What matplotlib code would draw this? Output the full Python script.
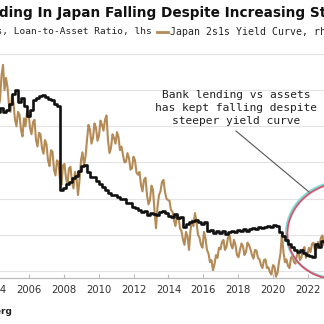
import numpy as np
import matplotlib.pyplot as plt
from matplotlib.patches import Ellipse
from matplotlib.lines import Line2D

# Japan banks, loan-to-asset ratio (%), lhs -- roughly every 9 weeks from Jan 2004
loan_to_asset = [72.3, 72.0, 72.5, 72.0, 72.3, 73.1, 74.5, 75.0, 73.4, 73.9,
                 72.8, 71.4, 72.3, 73.6, 73.9, 74.2, 74.3, 74.1, 73.8, 73.6,
                 73.1, 72.8, 61.2, 61.5, 62.0, 62.3, 62.8, 63.1, 63.8, 64.5,
                 64.6, 63.7, 63.0, 63.0, 62.4, 62.0, 61.6, 61.2, 60.8, 60.5,
                 60.5, 60.2, 59.9, 59.9, 59.4, 59.4, 58.8, 58.7, 58.4, 58.1,
                 58.3, 57.7, 58.0, 57.9, 57.7, 58.1, 58.3, 58.0, 57.6, 57.5,
                 57.9, 57.3, 57.5, 56.1, 56.5, 56.8, 56.9, 57.0, 56.8, 56.5,
                 56.8, 55.5, 55.7, 55.2, 55.5, 55.2, 55.5, 55.1, 55.4, 55.5,
                 55.4, 55.7, 55.5, 55.8, 55.5, 55.8, 55.9, 55.8, 56.1, 55.9,
                 56.1, 56.2, 56.1, 56.3, 56.2, 55.4, 54.8, 54.3, 53.7, 53.3,
                 52.9, 52.6, 52.9, 52.5, 52.2, 52.1, 51.9, 53.7, 53.3, 54.1,
                 54.0, 54.3, 54.1, 54.4]

# Japan 2s1s yield curve (bp), rhs -- about every 4.5 weeks from Jan 2004
curve_2s1s = [24.3, 26.4, 25.7, 22.8, 23.6, 27.0, 28.5, 25.0, 26.7, 25.4,
              22.9, 22.0, 24.3, 23.2, 20.9, 20.0, 22.0, 21.6, 19.5, 18.6,
              21.1, 20.0, 22.0, 21.9, 19.8, 18.9, 20.6, 20.9, 18.1, 17.2,
              19.1, 18.9, 17.0, 16.2, 18.1, 17.5, 15.3, 14.5, 16.7, 16.5,
              14.0, 13.2, 15.3, 15.0, 12.6, 11.9, 14.6, 14.8, 12.8, 12.0,
              14.2, 14.4, 12.3, 11.4, 13.7, 12.9, 10.5, 12.5, 15.3, 16.4,
              14.6, 15.8, 18.1, 20.2, 19.5, 17.6, 18.4, 20.4, 19.8, 18.0,
              18.7, 20.8, 20.2, 19.4, 20.9, 21.5, 18.1, 16.3, 17.0, 18.9,
              18.4, 17.6, 19.2, 18.5, 16.7, 17.2, 16.0, 15.0, 15.1, 16.3,
              15.6, 14.0, 14.2, 15.8, 15.3, 13.6, 13.3, 13.7, 11.9, 11.0,
              12.6, 12.9, 10.5, 9.2, 9.8, 11.8, 11.2, 8.4, 5.9, 8.8,
              10.5, 11.0, 12.3, 12.6, 10.9, 10.0, 9.8, 9.7, 8.4, 8.2,
              7.0, 6.2, 7.7, 7.5, 5.9, 5.5, 4.3, 3.6, 5.4, 4.8,
              2.9, 5.6, 7.0, 6.2, 8.0, 6.8, 5.0, 4.6, 3.6, 3.2,
              5.4, 4.5, 2.9, 2.4, 1.2, 1.5, 0.1, 0.9, 2.2, 1.8,
              3.2, 3.0, 4.0, 4.3, 2.9, 3.3, 4.6, 5.0, 3.6, 3.1,
              4.3, 3.6, 2.2, 1.9, 2.9, 3.8, 3.4, 2.2, 2.6, 3.9,
              3.6, 3.0, 2.2, 1.7, 2.9, 2.8, 1.8, 1.6, 0.8, 0.4,
              1.5, 1.6, 0.4, 0.5, -0.2, -0.5, 0.8, 0.6, -0.8, -0.3,
              1.2, 2.4, 5.2, 2.6, 1.2, 1.6, 0.7, 0.4, 1.8, 2.1,
              1.2, 1.0, 2.2, 2.6, 1.5, 1.9, 2.9, 3.3, 1.8, 2.2,
              3.2, 2.6, 3.7, 3.9, 2.9, 3.0, 4.0, 3.6, 4.6, 4.9,
              3.6, 3.4, 4.3, 4.1, 4.8, 5.0, 3.9]

years_lta = 2004 + np.arange(len(loan_to_asset)) * 0.172
years_curve = 2004 + np.arange(len(curve_2s1s)) * 0.086
tick_years = [2004, 2006, 2008, 2010, 2012, 2014, 2016, 2018, 2020, 2022]

title = 'Bank Lending In Japan Falling Despite Increasing Steepness'
note = 'Bank lending vs assets\nhas kept falling despite\nsteeper yield curve'

BLACK = '#111111'
TAN = '#b48b56'
W = H = 324


def fx(px):
    return px / W


def fy(py):
    return 1 - py / H


fig = plt.figure(figsize=(3.24, 3.24), dpi=100)
fig.patch.set_facecolor('white')

# the picture is a crop of a wider chart, so the axes run past the edges
ax_r = fig.add_axes([fx(-20), fy(278), 364 / W, 224 / H])
ax = ax_r.twinx()
ax.set_zorder(ax_r.get_zorder() + 1)
ax.patch.set_visible(False)

ax_r.plot(years_curve, curve_2s1s, color=TAN, lw=1.5)
ax.plot(years_lta, loan_to_asset, color=BLACK, lw=1.9, drawstyle='steps-post')

ax_r.set_xlim(2003.197, 2024.069)
ax_r.set_ylim(-0.98, 30)
ax.set_ylim(49.02, 80)

ax_r.set_yticks([0, 5, 10, 15, 20, 25, 30])
ax_r.grid(axis='y', color='#e3e3e3', lw=0.8)
ax_r.set_xticks(tick_years)
ax_r.tick_params(axis='x', direction='in', length=3, color='#bbbbbb',
                 labelsize=7.2, labelcolor='#333333', pad=5)
ax_r.tick_params(axis='y', left=False, labelleft=False)
ax.tick_params(axis='y', right=False, labelright=False)
for a in (ax, ax_r):
    for side in ('top', 'left', 'right'):
        a.spines[side].set_visible(False)
    a.spines['bottom'].set_color('#bbbbbb')

# title, cut at the left like the crop
renderer = fig.canvas.get_renderer()
probe = fig.text(0, 0, 'Bank Len', fontsize=9.8, fontweight='bold')
shift = probe.get_window_extent(renderer).width
probe.remove()
fig.text(fx(-shift - 1), fy(13), title, fontsize=9.8, fontweight='bold',
         color='#111111', va='center', ha='left')

# legend line
fig.text(fx(152), fy(32), 'Japan Banks, Loan-to-Asset Ratio, lhs',
         family='DejaVu Sans Mono', fontsize=6.8, color='#222222',
         ha='right', va='center')
fig.add_artist(Line2D([fx(157), fx(168)], [fy(32), fy(32)], color=TAN, lw=2))
fig.text(fx(170), fy(32), 'Japan 2s1s Yield Curve, rhs',
         family='DejaVu Sans Mono', fontsize=7.1, color='#222222',
         ha='left', va='center')

# note and pointer
fig.text(fx(236), fy(108), note, family='DejaVu Sans Mono', fontsize=8.1,
         color='#222222', ha='center', va='center', linespacing=1.4)
fig.add_artist(Line2D([fx(236), fx(309)], [fy(131), fy(192)],
                      color='#555555', lw=0.8))

# circled area (display pixels, y up)
fig.add_artist(Ellipse((341 - 1.2, H - 231 + 1.2), 108, 96, angle=15,
                       fill=False, ec='#7fd9d6', lw=1.6, transform=None))
fig.add_artist(Ellipse((341, H - 231), 108, 96, angle=15,
                       fill=False, ec='#d9506a', lw=1.3, transform=None))

fig.text(fx(12), fy(311), 'Source: Bloomberg', fontsize=6.5,
         fontweight='bold', color='#222222', ha='right', va='center')

fig.savefig('out.png', dpi=100)
